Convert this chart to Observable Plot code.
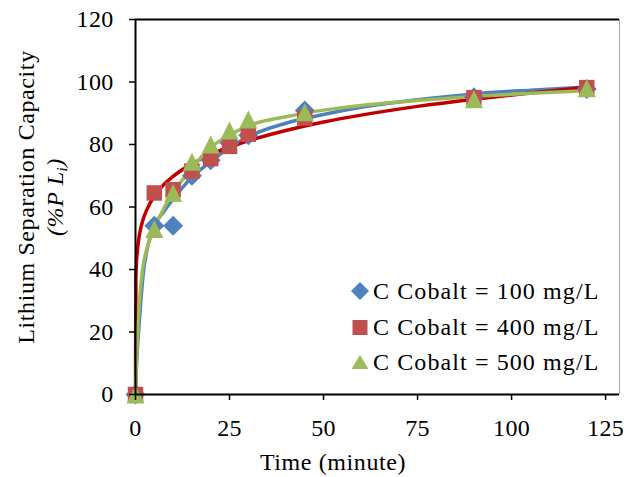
<!DOCTYPE html>
<html>
<head>
<meta charset="utf-8">
<script src="https://cdn.jsdelivr.net/npm/d3@7"></script>
<script src="https://cdn.jsdelivr.net/npm/@observablehq/plot@0.6"></script>
<style>
  html, body { margin: 0; padding: 0; background: #fff; }
  #chart { position: relative; width: 624px; height: 477px; font-family: "Liberation Serif", "Times New Roman", serif; color: #000; }
  #chart svg.plot { position: absolute; left: 0; top: 0; }
  .lbl { position: absolute; white-space: nowrap; font-size: 24px; line-height: 24px; height: 24px; }
  .legend-row { position: absolute; left: 347px; height: 24px; display: flex; align-items: center; font-size: 24px; line-height: 24px; white-space: nowrap; letter-spacing: 1.1px; }
  .legend-row svg { display: block; width: 26px; height: 24px; flex: none; }
</style>
</head>
<body>
<div id="chart"></div>
<script>
// Sampling times (minutes) of the measured points
const timeMin = [0, 5, 10, 15, 20, 25, 30, 45, 90, 120];
// Measured lithium separation capacity (%P Li) for each cobalt concentration
const cap100 = [0, 54, 54, 70, 75, 80.5, 83, 90.9, 95.1, 97.8];
const cap400 = [0, 64.5, 65.5, 71.5, 75.5, 79.4, 83.3, 88.5, 95.0, 98.2];
const cap500 = [0, 53, 64.5, 74.5, 80, 84.5, 88, 90.3, 94.5, 98.0];

// Fitted trend curves, sampled along the time axis
const fitTime = [0, 0.1, 0.25, 0.5, 1, 2, 3, 5, 7.5, 10, 15, 20, 25, 30, 40, 50, 60, 75, 90, 105, 120];
const fit100 = [0, 5, 9, 14.5, 23, 38, 46, 54, 58.5, 62.5, 69.5, 74.5, 79, 82.5, 86.8, 89.6, 91.9, 94.3, 96.2, 97.4, 98.4];
const fit400 = [0, 37, 42, 46, 50.8, 55.9, 59.1, 63.5, 67.1, 69.8, 73.8, 76.8, 79.2, 81.2, 84.5, 87.2, 89.4, 92.2, 94.5, 96.5, 98.3];
const fit500 = [0, 5, 10, 18, 28.5, 41, 46.5, 53, 59.5, 64.5, 72.5, 79, 83, 86, 88.9, 91, 92.5, 94.1, 95.4, 96.4, 97.2];

// Axis ticks
const xTicks = [0, 25, 50, 75, 100, 125];
const yTicks = [0, 20, 40, 60, 80, 100, 120];

// Series names and colours
const seriesNames = ["C Cobalt = 100 mg/L", "C Cobalt = 400 mg/L", "C Cobalt = 500 mg/L"];
const markerColors = ["#4F81BD", "#C0504D", "#9BBB59"];
const lineColors = ["#4F81BD", "#C00000", "#9BBB59"];

const toPoints = (xs, ys) => xs.map((t, i) => ({t, v: ys[i]}));
const points = [cap100, cap400, cap500].map(ys => toPoints(timeMin, ys));
const fits = [fit100, fit400, fit500].map(ys => toPoints(fitTime, ys));

// Marker shapes: a square-on-point diamond, a square and an isosceles triangle
const radius = size => Math.sqrt(size / Math.PI);
const diamondSym = {draw(ctx, size) { const r = radius(size); ctx.moveTo(0, -r); ctx.lineTo(r, 0); ctx.lineTo(0, r); ctx.lineTo(-r, 0); ctx.closePath(); }};
const squareSym = {draw(ctx, size) { const r = radius(size); ctx.rect(-r, -r, 2 * r, 2 * r); }};
const triangleSym = {draw(ctx, size) { const r = radius(size); ctx.moveTo(0, -r); ctx.lineTo(r, r); ctx.lineTo(-r, r); ctx.closePath(); }};
const symbols = [diamondSym, squareSym, triangleSym];
const markerR = [10, 7.75, 9];

const xMax = 128.7;

const plot = Plot.plot({
  width: 624,
  height: 477,
  marginLeft: 135,
  marginRight: 5,
  marginTop: 19,
  marginBottom: 83,
  x: {domain: [0, xMax]},
  y: {domain: [0, 120]},
  style: {fontFamily: "'Liberation Serif', 'Times New Roman', serif", fontSize: "24px", color: "#000", background: "transparent", letterSpacing: "0.3px"},
  marks: [
    // plot area border: top and right
    Plot.ruleY([120], {stroke: "#000", strokeWidth: 2}),
    Plot.ruleX([xMax], {stroke: "#a6a6a6", strokeWidth: 1}),
    // trend curves
    ...fits.map((d, i) => Plot.line(d, {x: "t", y: "v", stroke: lineColors[i], strokeWidth: 3.5, curve: "monotone-x"})),
    // measured points
    ...points.map((d, i) => Plot.dot(d, {x: "t", y: "v", symbol: symbols[i], r: markerR[i], fill: markerColors[i], stroke: "none"})),
    // axes
    Plot.axisX({ticks: xTicks, tickSize: 6, tickPadding: 18, strokeWidth: 1.5, label: null, tickFormat: d => String(d)}),
    Plot.axisY({ticks: yTicks, tickSize: 6, tickPadding: 16, strokeWidth: 1.5, label: null, tickFormat: d => String(d)}),
    Plot.ruleX([0], {stroke: "#000", strokeWidth: 2}),
    Plot.ruleY([0], {stroke: "#000", strokeWidth: 2})
  ]
});

const chart = document.getElementById("chart");
chart.appendChild(plot);

// Axis titles
function addLabel(html, cx, cy, rotate, extraStyle) {
  const el = document.createElement("div");
  el.className = "lbl";
  el.innerHTML = html;
  el.style.left = cx + "px";
  el.style.top = cy + "px";
  el.style.transform = `translate(-50%, -50%)${rotate ? " rotate(-90deg)" : ""}`;
  if (extraStyle) Object.assign(el.style, extraStyle);
  chart.appendChild(el);
}
addLabel("Time (minute)", 333, 462, false, {letterSpacing: "0.6px"});
addLabel("Lithium Separation Capacity", 25.5, 196.5, true, {letterSpacing: "0.6px"});
addLabel("<i>(%P L<sub style=\"font-size:15px;vertical-align:-4px;line-height:0\">i</sub>)</i>", 55, 196.5, true, {letterSpacing: "0.6px"});

// Legend
const legendY = [291, 326.5, 362];
const legendShapes = [
  c => `<path d="M13,3 L22,12 L13,21 L4,12 Z" fill="${c}"/>`,
  c => `<rect x="5.5" y="5" width="15" height="15" fill="${c}"/>`,
  c => `<path d="M13,5 L21.5,19 L4.5,19 Z" fill="${c}"/>`
];
seriesNames.forEach((name, i) => {
  const row = document.createElement("div");
  row.className = "legend-row";
  row.style.top = (legendY[i] - 12) + "px";
  row.innerHTML = `<svg viewBox="0 0 26 24">${legendShapes[i](markerColors[i])}</svg><span>${name}</span>`;
  chart.appendChild(row);
});
</script>
</body>
</html>
